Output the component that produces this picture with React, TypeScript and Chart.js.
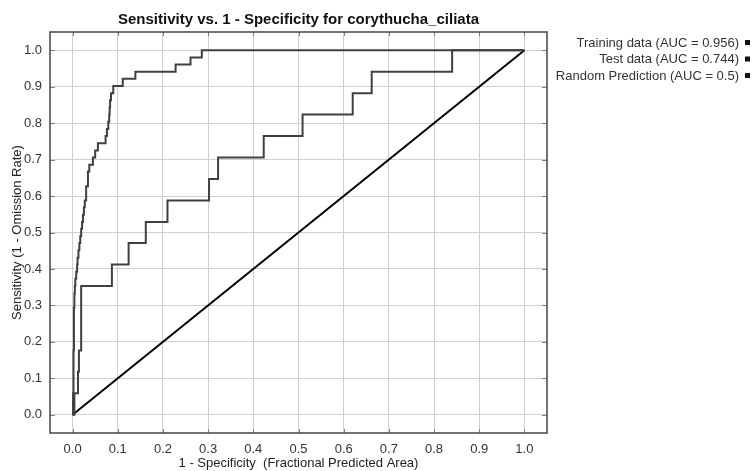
import { useEffect, useRef } from "react";
import { Chart, registerables } from "chart.js";

Chart.register(...registerables);

const chartTitle = "Sensitivity vs. 1 - Specificity for corythucha_ciliata";
const xAxisTitle = "1 - Specificity  (Fractional Predicted Area)";
const yAxisTitle = "Sensitivity (1 - Omission Rate)";

const tickValues = [0, 0.1, 0.2, 0.3, 0.4, 0.5, 0.6, 0.7, 0.8, 0.9, 1.0];
const tickLabels = ["0.0", "0.1", "0.2", "0.3", "0.4", "0.5", "0.6", "0.7", "0.8", "0.9", "1.0"];

const seriesLabels = [
  "Training data (AUC = 0.956)",
  "Test data (AUC = 0.744)",
  "Random Prediction (AUC = 0.5)",
];

// Training ROC (step points: fractional predicted area, sensitivity)
const trainFpr = [
  0, 0.001, 0.002, 0.002, 0.003, 0.003, 0.004, 0.005, 0.006, 0.008,
  0.010, 0.011, 0.013, 0.015, 0.017, 0.019, 0.021, 0.023, 0.025, 0.027,
  0.030, 0.034, 0.037, 0.045, 0.050, 0.056, 0.073, 0.076, 0.079, 0.081,
  0.082, 0.083, 0.085, 0.090, 0.111, 0.139, 0.228, 0.261, 0.286, 1.0,
];
const trainTpr = [
  0, 0.059, 0.118, 0.176, 0.235, 0.294, 0.333, 0.353, 0.373, 0.392,
  0.412, 0.431, 0.451, 0.471, 0.490, 0.510, 0.529, 0.549, 0.569, 0.588,
  0.627, 0.667, 0.686, 0.706, 0.725, 0.745, 0.765, 0.784, 0.804, 0.824,
  0.843, 0.863, 0.882, 0.902, 0.922, 0.941, 0.961, 0.980, 1.0, 1.0,
];

// Test ROC
const testFpr = [
  0, 0.004, 0.012, 0.014, 0.019, 0.019, 0.019, 0.087, 0.124, 0.162,
  0.210, 0.302, 0.322, 0.423, 0.509, 0.620, 0.662, 0.840, 1.0,
];
const testTpr = [
  0, 0.059, 0.118, 0.176, 0.235, 0.294, 0.353, 0.412, 0.471, 0.529,
  0.588, 0.647, 0.706, 0.765, 0.824, 0.882, 0.941, 1.0, 1.0,
];

// Random prediction
const randomFpr = [0, 1];
const randomTpr = [0, 1];

const FONT = "'Liberation Sans', Arial, Helvetica, sans-serif";

const framePlugin = {
  id: "frame",
  afterDatasetsDraw(chart: any) {
    const { ctx, chartArea: a, scales } = chart;
    ctx.save();
    ctx.strokeStyle = "#808080";
    ctx.lineWidth = 1;
    ctx.beginPath();
    tickValues.forEach((v) => {
      const px = Math.round(scales.x.getPixelForValue(v)) + 0.5;
      ctx.moveTo(px, a.bottom);
      ctx.lineTo(px, a.bottom - 4);
      ctx.moveTo(px, a.top);
      ctx.lineTo(px, a.top + 4);
      const py = Math.round(scales.y.getPixelForValue(v)) + 0.5;
      ctx.moveTo(a.left, py);
      ctx.lineTo(a.left + 5, py);
      ctx.moveTo(a.right, py);
      ctx.lineTo(a.right - 5, py);
    });
    ctx.stroke();
    ctx.strokeStyle = "#444444";
    ctx.lineWidth = 1.5;
    ctx.strokeRect(a.left, a.top, a.right - a.left, a.bottom - a.top);
    ctx.restore();
  },
};

const sideLegendPlugin = {
  id: "sideLegend",
  afterDraw(chart: any) {
    const { ctx } = chart;
    const textRight = chart.width - 15;
    ctx.save();
    ctx.font = `13px ${FONT}`;
    ctx.textAlign = "right";
    ctx.textBaseline = "middle";
    chart.data.datasets.forEach((ds: any, i: number) => {
      const y = 43 + i * 16.5;
      ctx.fillStyle = "#333333";
      ctx.fillText(ds.label, textRight, y);
      ctx.fillStyle = "#111111";
      ctx.fillRect(textRight + 6, y - 3, 5, 5);
    });
    ctx.restore();
  },
};

export default function App() {
  const ref = useRef<HTMLCanvasElement>(null);

  useEffect(() => {
    document.body.style.margin = "0";
    const canvas = ref.current;
    if (!canvas) return;
    const toPts = (xs: number[], ys: number[]) => xs.map((x, i) => ({ x, y: ys[i] }));

    const commonScale = {
      type: "linear" as const,
      min: -0.05,
      max: 1.05,
      afterBuildTicks: (s: any) => {
        s.ticks = tickValues.map((v) => ({ value: v }));
      },
      grid: { color: "#d0d0d0", lineWidth: 1, drawTicks: false },
      border: { display: false },
    };

    const chart = new Chart(canvas, {
      type: "line",
      data: {
        datasets: [
          {
            label: seriesLabels[0],
            data: toPts(trainFpr, trainTpr),
            stepped: "before",
            borderColor: "#404040",
            borderWidth: 2,
            pointRadius: 0,
            fill: false,
          },
          {
            label: seriesLabels[1],
            data: toPts(testFpr, testTpr),
            stepped: "before",
            borderColor: "#404040",
            borderWidth: 2,
            pointRadius: 0,
            fill: false,
          },
          {
            label: seriesLabels[2],
            data: toPts(randomFpr, randomTpr),
            borderColor: "#000000",
            borderWidth: 2,
            pointRadius: 0,
            fill: false,
          },
        ],
      },
      options: {
        responsive: true,
        maintainAspectRatio: false,
        animation: false,
        layout: { padding: { left: 0, right: 207, top: 0, bottom: 0 } },
        font: { family: FONT },
        plugins: {
          legend: { display: false },
          tooltip: { enabled: false },
          title: {
            display: true,
            text: chartTitle,
            fullSize: false,
            color: "#111111",
            font: { family: FONT, size: 15, weight: "bold" },
            padding: { top: 11, bottom: 3 },
          },
        },
        scales: {
          x: {
            ...commonScale,
            afterFit: (s: any) => {
              s.height = 38;
            },
            ticks: {
              callback: (_v: any, i: number) => tickLabels[i],
              color: "#333333",
              font: { family: FONT, size: 13 },
              padding: 9,
              maxRotation: 0,
              autoSkip: false,
            },
            title: {
              display: true,
              text: xAxisTitle,
              color: "#222222",
              font: { family: FONT, size: 13 },
              padding: { top: 0, bottom: 0 },
            },
          },
          y: {
            ...commonScale,
            afterFit: (s: any) => {
              s.width = 50;
            },
            ticks: {
              callback: (_v: any, i: number) => tickLabels[i],
              color: "#333333",
              font: { family: FONT, size: 13 },
              padding: 8,
              autoSkip: false,
            },
            title: {
              display: true,
              text: yAxisTitle,
              color: "#222222",
              font: { family: FONT, size: 13 },
              padding: { top: 10, bottom: 0 },
            },
          },
        },
      } as any,
      plugins: [framePlugin, sideLegendPlugin],
    });

    return () => chart.destroy();
  }, []);

  return (
    <div style={{ width: 754, height: 471, position: "relative" }}>
      <canvas ref={ref} />
    </div>
  );
}
